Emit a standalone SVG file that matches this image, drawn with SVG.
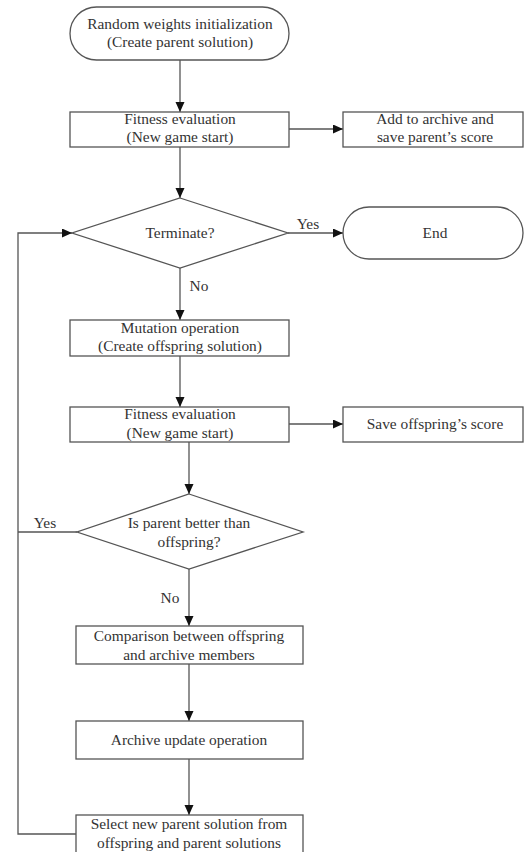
<svg xmlns="http://www.w3.org/2000/svg" width="525" height="852" viewBox="0 0 525 852">
<style>
.box{fill:#fff;stroke:#555;stroke-width:1.3}
.ln{fill:none;stroke:#555;stroke-width:1.3}
.t{font-family:"Liberation Serif","Times New Roman",serif;font-size:15.4px;fill:#333;text-anchor:middle}
</style>
<defs>
<marker id="ah" markerUnits="userSpaceOnUse" markerWidth="10" markerHeight="10" refX="10" refY="4.5" orient="auto">
<path d="M0,0 L10,4.5 L0,9 Z" fill="#111"/>
</marker>
</defs>
<rect width="525" height="852" fill="#fff"/>
<g id="connectors">
<line class="ln" x1="180" y1="60" x2="180" y2="112" marker-end="url(#ah)"/>
<line class="ln" x1="289" y1="129" x2="343" y2="129" marker-end="url(#ah)"/>
<line class="ln" x1="180" y1="147" x2="180" y2="198" marker-end="url(#ah)"/>
<line class="ln" x1="288" y1="233" x2="343" y2="233" marker-end="url(#ah)"/>
<line class="ln" x1="180" y1="268" x2="180" y2="320" marker-end="url(#ah)"/>
<line class="ln" x1="180" y1="356" x2="180" y2="407" marker-end="url(#ah)"/>
<line class="ln" x1="289" y1="424" x2="343" y2="424" marker-end="url(#ah)"/>
<line class="ln" x1="189" y1="442" x2="189" y2="494" marker-end="url(#ah)"/>
<line class="ln" x1="189" y1="569" x2="189" y2="626" marker-end="url(#ah)"/>
<line class="ln" x1="189" y1="664" x2="189" y2="721" marker-end="url(#ah)"/>
<line class="ln" x1="189" y1="759" x2="189" y2="815" marker-end="url(#ah)"/>
<polyline class="ln" points="76,834 18,834 18,233 72,233" marker-end="url(#ah)"/>
<line class="ln" x1="77" y1="532" x2="18" y2="532"/>
<text class="t" x="308" y="229">Yes</text>
<text class="t" x="199" y="291">No</text>
<text class="t" x="45" y="528">Yes</text>
<text class="t" x="170" y="603">No</text>
</g>
<g id="start">
<rect class="box" x="70" y="7" width="219" height="53" rx="26.5"/>
<text class="t" x="180" y="29">Random weights initialization</text>
<text class="t" x="180" y="47">(Create parent solution)</text>
</g>
<g id="fitness1">
<rect class="box" x="70" y="112" width="219" height="35"/>
<text class="t" x="180" y="124">Fitness evaluation</text>
<text class="t" x="180" y="142">(New game start)</text>
</g>
<g id="archive">
<rect class="box" x="343" y="112" width="180" height="35"/>
<text class="t" x="435" y="124">Add to archive and</text>
<text class="t" x="435" y="142">save parent’s score</text>
</g>
<g id="terminate">
<polygon class="box" points="180,198 288,233 180,268 72,233"/>
<text class="t" x="180" y="238">Terminate?</text>
</g>
<g id="end">
<rect class="box" x="343" y="207" width="180" height="52" rx="26"/>
<text class="t" x="435" y="238">End</text>
</g>
<g id="mutation">
<rect class="box" x="70" y="320" width="219" height="36"/>
<text class="t" x="180" y="333">Mutation operation</text>
<text class="t" x="180" y="351">(Create offspring solution)</text>
</g>
<g id="fitness2">
<rect class="box" x="70" y="407" width="219" height="35"/>
<text class="t" x="180" y="419">Fitness evaluation</text>
<text class="t" x="180" y="438">(New game start)</text>
</g>
<g id="saveoff">
<rect class="box" x="343" y="407" width="180" height="35"/>
<text class="t" x="435" y="429">Save offspring’s score</text>
</g>
<g id="better">
<polygon class="box" points="189,494 303,532 189,569 77,532"/>
<text class="t" x="189" y="528">Is parent better than</text>
<text class="t" x="189" y="547">offspring?</text>
</g>
<g id="comparison">
<rect class="box" x="76" y="626" width="227" height="38"/>
<text class="t" x="189" y="641">Comparison between offspring</text>
<text class="t" x="189" y="660">and archive members</text>
</g>
<g id="update">
<rect class="box" x="76" y="721" width="227" height="38"/>
<text class="t" x="189" y="745">Archive update operation</text>
</g>
<g id="select">
<rect class="box" x="76" y="815" width="227" height="38"/>
<text class="t" x="189" y="829">Select new parent solution from</text>
<text class="t" x="189" y="848">offspring and parent solutions</text>
</g>
</svg>
